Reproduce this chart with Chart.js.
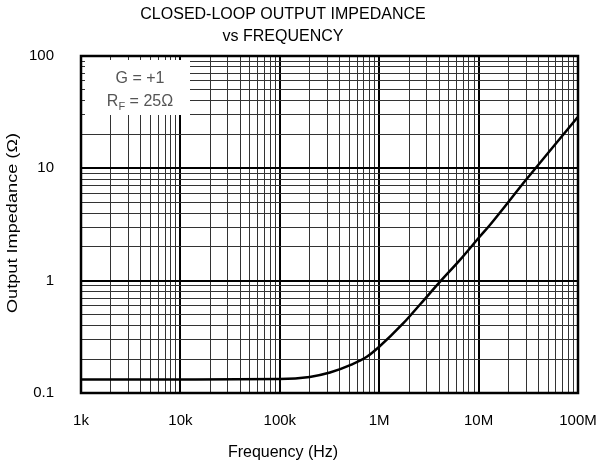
<!DOCTYPE html>
<html>
<head>
<meta charset="utf-8">
<script src="https://cdn.jsdelivr.net/npm/chart.js@4/dist/chart.umd.min.js"></script>
<style>
  html, body { margin: 0; padding: 0; background: #fff; }
  #wrap { width: 607px; height: 466px; }
</style>
</head>
<body>
<div id="wrap"><canvas id="myChart" width="607" height="466"></canvas></div>
<script>
// values
const freqHz = [1e3, 1e4, 1e5, 2e5, 3.2e5, 5.1e5, 7.5e5, 1e6, 1.75e6, 2.6e6, 4.1e6, 6.5e6, 1.03e7, 1.3e7, 3e7, 1e8];
const impedance = [0.132, 0.132, 0.133, 0.139, 0.152, 0.177, 0.21, 0.258, 0.418, 0.62, 0.98, 1.53, 2.47, 3.13, 7.9, 28.8];

const xDecades = [1e3, 1e4, 1e5, 1e6, 1e7, 1e8];
const xDecadeLabels = ['1k', '10k', '100k', '1M', '10M', '100M'];
const yDecades = [0.1, 1, 10, 100];
const yDecadeLabels = ['0.1', '1', '10', '100'];

const titleLines = ['CLOSED-LOOP OUTPUT IMPEDANCE', 'vs FREQUENCY'];
const xTitle = 'Frequency (Hz)';
const yTitle = 'Output Impedance (\u03A9)';

const FONT = 'Liberation Sans, Arial, sans-serif';

function allLogTicks(min, max) {
    let out = [];
    for (let e = Math.floor(Math.log10(min)); e <= Math.ceil(Math.log10(max)); e++) {
        for (let m = 1; m <= 9; m++) {
            let v = m * Math.pow(10, e);
            if (v >= min * 0.999 && v <= max * 1.001) out.push({ value: v });
        }
    }
    return out;
}

function isDecade(v) {
    const l = Math.log10(v);
    return Math.abs(l - Math.round(l)) < 1e-6;
}

function decadeLabel(v, decades, labels) {
    for (let i = 0; i < decades.length; i++) {
        if (Math.abs(v / decades[i] - 1) < 1e-6) return labels[i];
    }
    return '';
}

const gridStyle = {
    color: ctx => (ctx.tick && isDecade(ctx.tick.value)) ? '#000' : '#333',
    lineWidth: ctx => (ctx.tick && isDecade(ctx.tick.value)) ? 2 : 1,
    drawTicks: false
};

// frame, title, axis labels, gain note
const decorations = {
    id: 'decorations',
    afterDatasetsDraw(chart) {
        const c = chart.ctx;
        const a = chart.chartArea;
        c.save();
        c.strokeStyle = '#000';
        c.lineWidth = 2.5;
        c.strokeRect(a.left, a.top, a.right - a.left, a.bottom - a.top);

        // note box
        c.fillStyle = '#fff';
        c.fillRect(85, 60, 105, 55);
        c.fillStyle = '#555';
        c.font = '16px ' + FONT;
        c.textAlign = 'center';
        c.textBaseline = 'middle';
        c.fillText('G = +1', 140, 79);
        const rest = ' = 25\u03A9';
        const wR = c.measureText('R').width;
        const wRest = c.measureText(rest).width;
        c.font = '11px ' + FONT;
        const wF = c.measureText('F').width;
        let x0 = 140 - (wR + wF + wRest) / 2;
        c.textAlign = 'left';
        c.font = '16px ' + FONT;
        c.fillText('R', x0, 102);
        c.font = '11px ' + FONT;
        c.fillText('F', x0 + wR, 107);
        c.font = '16px ' + FONT;
        c.fillText(rest, x0 + wR + wF, 102);
        c.restore();
    },
    afterDraw(chart) {
        const c = chart.ctx;
        c.save();
        c.fillStyle = '#000';
        c.textAlign = 'center';
        c.textBaseline = 'middle';
        c.font = '16px ' + FONT;
        c.fillText(titleLines[0], 283, 15);
        c.fillText(titleLines[1], 283, 37);
        c.fillText(xTitle, 283, 453);

        // y title is drawn stretched along its length, as in the source
        c.font = '15px ' + FONT;
        const w = c.measureText(yTitle).width;
        c.translate(13, 223);
        c.rotate(-Math.PI / 2);
        c.scale(180 / w, 1);
        c.fillText(yTitle, 0, 0);
        c.restore();
    }
};

const ctx = document.getElementById('myChart').getContext('2d');
const myChart = new Chart(ctx, {
    type: 'scatter',
    data: {
        datasets: [{
            data: freqHz.map((f, i) => ({ x: f, y: impedance[i] })),
            showLine: true,
            borderColor: '#000',
            borderWidth: 2.5,
            pointRadius: 0,
            cubicInterpolationMode: 'monotone'
        }]
    },
    options: {
        responsive: false,
        animation: false,
        layout: { padding: { top: 56, right: 29, left: 0, bottom: 0 } },
        plugins: { legend: { display: false }, tooltip: { enabled: false }, title: { display: false } },
        scales: {
            x: {
                type: 'logarithmic',
                min: 1e3,
                max: 1e8,
                afterBuildTicks: s => { s.ticks = allLogTicks(1e3, 1e8); },
                afterFit: s => { s.height = 73; s.paddingLeft = 0; s.paddingRight = 0; },
                grid: gridStyle,
                border: { display: false },
                ticks: {
                    autoSkip: false,
                    maxRotation: 0,
                    padding: 19,
                    color: '#000',
                    font: { family: FONT, size: 15 },
                    callback: v => decadeLabel(v, xDecades, xDecadeLabels)
                }
            },
            y: {
                type: 'logarithmic',
                min: 0.1,
                max: 100,
                afterBuildTicks: s => { s.ticks = allLogTicks(0.1, 100); },
                afterFit: s => { s.width = 81; s.paddingTop = 0; s.paddingBottom = 0; },
                grid: gridStyle,
                border: { display: false },
                ticks: {
                    autoSkip: false,
                    padding: 27,
                    color: '#000',
                    font: { family: FONT, size: 15 },
                    callback: v => decadeLabel(v, yDecades, yDecadeLabels)
                }
            }
        }
    },
    plugins: [decorations]
});
</script>
</body>
</html>
